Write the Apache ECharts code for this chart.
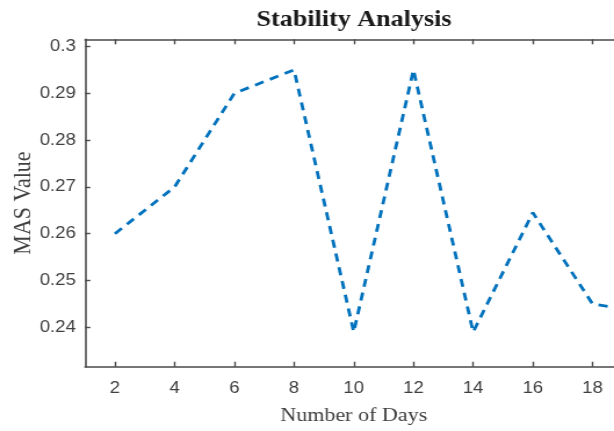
<!DOCTYPE html>
<html>
<head>
<meta charset="utf-8">
<script src="https://cdn.jsdelivr.net/npm/echarts@6/dist/echarts.min.js"></script>
<style>
html,body{margin:0;padding:0;background:#fff;overflow:hidden;}
#wrap{width:614px;height:431px;overflow:hidden;}
#chart{width:529px;height:431px;transform:scaleX(1.1607);transform-origin:0 0;}
</style>
</head>
<body>
<div id="wrap"><div id="chart"></div></div>
<script>
const days = [2, 4, 6, 8, 10, 12, 14, 16, 18, 19];
const masValues = [0.26, 0.27, 0.29, 0.295, 0.239, 0.295, 0.239, 0.2645, 0.245, 0.244];
const xTicks = [2, 4, 6, 8, 10, 12, 14, 16, 18];
const yTicks = [0.24, 0.25, 0.26, 0.27, 0.28, 0.29, 0.3];
const titleText = 'Stability Analysis';
const xName = 'Number of Days';
const yName = 'MAS Value';

const axisColor = '#4a4a4a';
const labelColor = '#404040';

const chart = echarts.init(document.getElementById('chart'), null, {renderer: 'canvas'});
chart.setOption({
  animation: false,
  backgroundColor: '#fff',
  title: {
    text: titleText,
    left: 300,
    textAlign: 'center',
    top: 4,
    textStyle: {fontFamily: 'Liberation Serif', fontWeight: 'bold', fontSize: 22.5, color: '#1a1a1a'}
  },
  grid: {left: 73.3, right: -7.2, top: 39.3, bottom: 64.3, containLabel: false, outerBoundsMode: 'none'},
  xAxis: [{
    type: 'value', position: 'bottom', min: 1, max: 19,
    name: xName, nameLocation: 'middle', nameGap: 40, nameMoveOverlap: false,
    nameTextStyle: {fontFamily: 'Liberation Serif', fontSize: 19, color: labelColor},
    axisLine: {show: true, onZero: false, lineStyle: {color: axisColor, width: 1.6}},
    axisTick: {show: true, inside: true, length: 5, customValues: xTicks, lineStyle: {color: axisColor, width: 1.4}},
    axisLabel: {show: true, customValues: xTicks, margin: 14, fontFamily: 'Liberation Sans', fontSize: 16, color: labelColor},
    splitLine: {show: false}
  }, {
    type: 'value', position: 'top', min: 1, max: 19,
    axisLine: {show: true, onZero: false, lineStyle: {color: axisColor, width: 1.6}},
    axisTick: {show: true, inside: true, length: 5, customValues: xTicks, lineStyle: {color: axisColor, width: 1.4}},
    axisLabel: {show: false},
    splitLine: {show: false}
  }],
  yAxis: {
    type: 'value', min: 0.23158, max: 0.30154,
    name: yName, nameLocation: 'middle', nameGap: 42, nameRotate: 90, nameMoveOverlap: false,
    nameTextStyle: {fontFamily: 'Liberation Serif', fontSize: 22, color: labelColor},
    axisLine: {show: true, onZero: false, lineStyle: {color: axisColor, width: 1.6}},
    axisTick: {show: true, inside: true, length: 4.5, customValues: yTicks, lineStyle: {color: axisColor, width: 1.4}},
    axisLabel: {show: true, customValues: yTicks, margin: 8, fontFamily: 'Liberation Sans', fontSize: 16, color: labelColor,
      formatter: v => String(+v.toFixed(2))},
    splitLine: {show: false}
  },
  series: [{
    type: 'line',
    xAxisIndex: 0,
    data: days.map((d, i) => [d, masValues[i]]),
    showSymbol: false,
    symbol: 'none',
    clip: true,
    lineStyle: {color: '#0072BD', width: 2.8, type: [8, 6]}
  }]
});
</script>
</body>
</html>
